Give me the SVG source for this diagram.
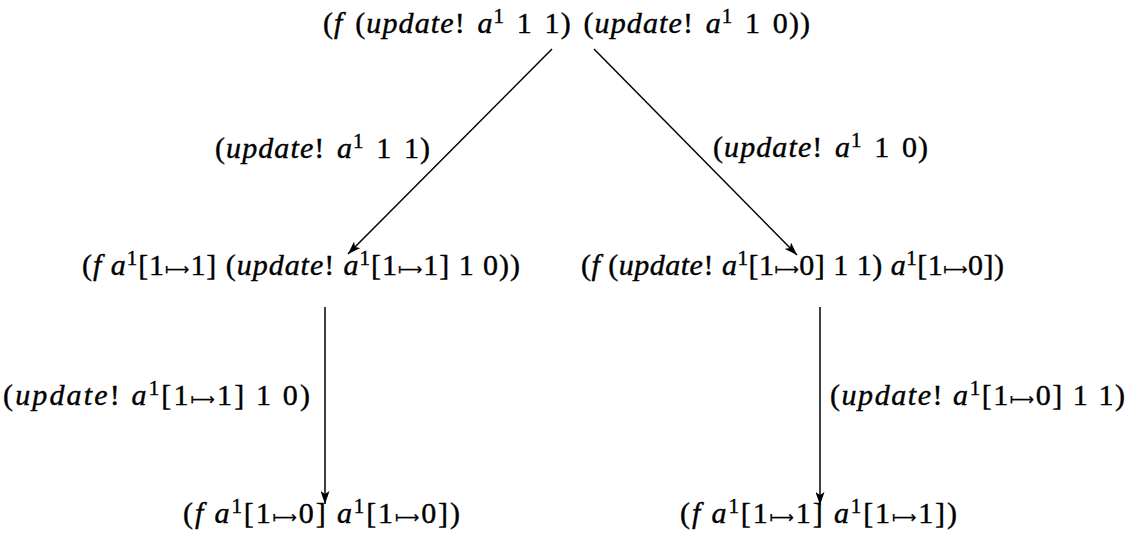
<svg xmlns="http://www.w3.org/2000/svg" width="1135" height="546" viewBox="0 0 1135 546">
  <style>
    .t { font-family: "Liberation Serif", "Times New Roman", serif; font-size: 30px; word-spacing: 3px; fill: #000; stroke: #000; stroke-width: 0.4; }
    .t.n { word-spacing: 0; }
    .i { font-style: italic; }
    .s { font-size: 21px; }
    .m { font-family: "DejaVu Sans", sans-serif; font-size: 17px; stroke-width: 0.2; }
    .edge { stroke: #000; stroke-width: 1.5; fill: none; marker-end: url(#head); }
  </style>
  <defs>
    <marker id="head" viewBox="0 0 13 9" refX="13" refY="4.5" markerWidth="13" markerHeight="9" markerUnits="userSpaceOnUse" orient="auto">
      <path d="M0,0 L13,4.5 L0,9 L3,4.5 Z" fill="#000"/>
    </marker>
  </defs>
  <rect width="1135" height="546" fill="#fff"/>

  <!-- reduction steps -->
  <g id="connectors">
    <line class="edge" x1="552" y1="49" x2="348" y2="254"/>
    <line class="edge" x1="594" y1="49" x2="797" y2="255"/>
    <line class="edge" x1="325" y1="307" x2="325" y2="504"/>
    <line class="edge" x1="820" y1="307" x2="820" y2="505"/>
    <g id="edge-labels">
      <text class="t" x="215" y="158" textLength="215" lengthAdjust="spacing">(<tspan class="i">update</tspan>! <tspan class="i">a</tspan><tspan class="s" baseline-shift="10">1</tspan> 1 1)</text>
      <text class="t" x="713" y="157" textLength="215" lengthAdjust="spacing">(<tspan class="i">update</tspan>! <tspan class="i">a</tspan><tspan class="s" baseline-shift="10">1</tspan> 1 0)</text>
      <text class="t n" x="3" y="405" textLength="307" lengthAdjust="spacing">(<tspan class="i">update</tspan>! <tspan class="i">a</tspan><tspan class="s" baseline-shift="10">1</tspan>[1<tspan class="m">⟼</tspan>1] 1 0)</text>
      <text class="t n" x="830" y="405" textLength="295" lengthAdjust="spacing">(<tspan class="i">update</tspan>! <tspan class="i">a</tspan><tspan class="s" baseline-shift="10">1</tspan>[1<tspan class="m">⟼</tspan>0] 1 1)</text>
    </g>
  </g>

  <!-- expressions -->
  <g id="node-root">
    <text class="t" x="323" y="33" textLength="487" lengthAdjust="spacing">(<tspan class="i">f</tspan> (<tspan class="i">update</tspan>! <tspan class="i">a</tspan><tspan class="s" baseline-shift="10">1</tspan> 1 1) (<tspan class="i">update</tspan>! <tspan class="i">a</tspan><tspan class="s" baseline-shift="10">1</tspan> 1 0))</text>
  </g>
  <g id="node-left">
    <text class="t n" x="82" y="275" textLength="438" lengthAdjust="spacing">(<tspan class="i">f</tspan> <tspan class="i">a</tspan><tspan class="s" baseline-shift="10">1</tspan>[1<tspan class="m">⟼</tspan>1] (<tspan class="i">update</tspan>! <tspan class="i">a</tspan><tspan class="s" baseline-shift="10">1</tspan>[1<tspan class="m">⟼</tspan>1] 1 0))</text>
  </g>
  <g id="node-right">
    <text class="t n" x="581" y="275" textLength="423" lengthAdjust="spacing">(<tspan class="i">f</tspan> (<tspan class="i">update</tspan>! <tspan class="i">a</tspan><tspan class="s" baseline-shift="10">1</tspan>[1<tspan class="m">⟼</tspan>0] 1 1) <tspan class="i">a</tspan><tspan class="s" baseline-shift="10">1</tspan>[1<tspan class="m">⟼</tspan>0])</text>
  </g>
  <g id="node-left-result">
    <text class="t n" x="183" y="523" textLength="277" lengthAdjust="spacing">(<tspan class="i">f</tspan> <tspan class="i">a</tspan><tspan class="s" baseline-shift="10">1</tspan>[1<tspan class="m">⟼</tspan>0] <tspan class="i">a</tspan><tspan class="s" baseline-shift="10">1</tspan>[1<tspan class="m">⟼</tspan>0])</text>
  </g>
  <g id="node-right-result">
    <text class="t n" x="680" y="523" textLength="277" lengthAdjust="spacing">(<tspan class="i">f</tspan> <tspan class="i">a</tspan><tspan class="s" baseline-shift="10">1</tspan>[1<tspan class="m">⟼</tspan>1] <tspan class="i">a</tspan><tspan class="s" baseline-shift="10">1</tspan>[1<tspan class="m">⟼</tspan>1])</text>
  </g>
</svg>
